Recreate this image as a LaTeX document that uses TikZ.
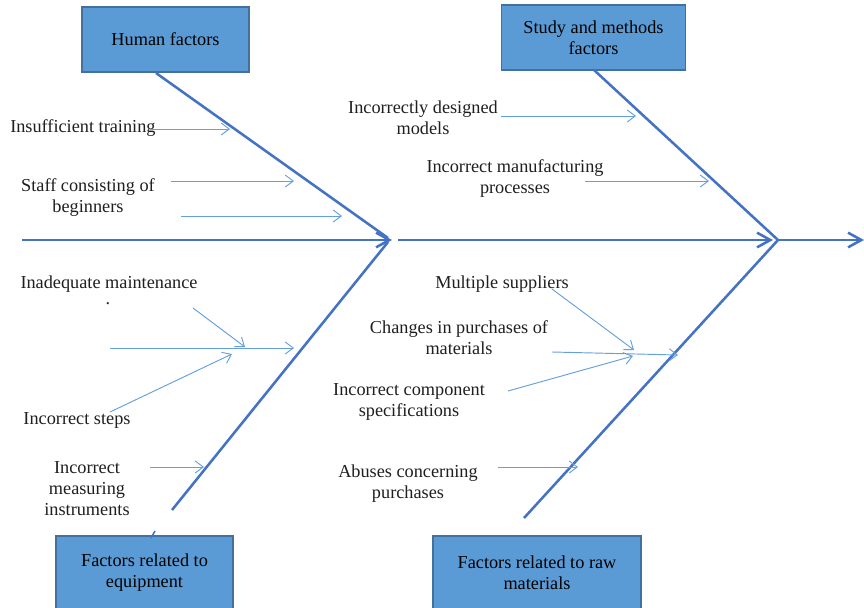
\documentclass[tikz,border=0pt]{standalone}
\usepackage{fontspec}
\setmainfont{Liberation Serif}
\usetikzlibrary{arrows.meta}
\definecolor{boxfill}{RGB}{91,155,213}
\definecolor{boxline}{RGB}{65,113,156}
\definecolor{bonecol}{RGB}{68,114,196}
\definecolor{thincol}{RGB}{100,160,220}
\tikzset{
  catbox/.style={draw=boxline, line width=0.9pt, fill=boxfill, inner sep=0pt, align=center,
     font=\fontsize{13.7}{15.75}\selectfont},
  lbl/.style={inner sep=0pt, align=center, font=\fontsize{13.7}{15.75}\selectfont, text=black!88, yshift=-1.5pt},
  bone/.style={draw=bonecol, line width=1.9pt},
  bonetip/.style={-{Straight Barb[length=10pt,width=11pt,line width=1.9pt]}},
  cause/.style={draw=thincol, line width=0.7pt, -{Straight Barb[length=6pt,width=9pt,line width=0.7pt]}}
}
\begin{document}
\begin{tikzpicture}[x=0.75pt,y=-0.75pt]
\clip (0,0) rectangle (864,607);
\fill[white] (0,0) rectangle (864,607);
% category boxes
\node[catbox, minimum width=167*0.75pt, minimum height=65*0.75pt] (hf) at (165.5,39.5) {Human factors};
\node[catbox, minimum width=184*0.75pt, minimum height=65*0.75pt] (sm) at (593.5,37.5) {Study and methods\\factors};
\node[catbox, minimum width=177*0.75pt, minimum height=74*0.75pt] (eq) at (144.5,573) {Factors related to\\equipment};
\node[catbox, minimum width=208*0.75pt, minimum height=74*0.75pt] (rm) at (537,573) {Factors related to raw\\materials};
% spine coordinates
\coordinate (s0) at (22,240);
\coordinate (j1) at (392,240);
\coordinate (s1) at (398,240);
\coordinate (j2t) at (773,240);
\coordinate (j2) at (778,240);
\coordinate (s3) at (864,240);
% bone ends
\coordinate (b1) at (156,73);
\coordinate (b2) at (172,510);
\coordinate (b3) at (594,70);
\coordinate (b4) at (524,518);
% spine
\draw[bone,bonetip] (s0) -- (j1);
\draw[bone,bonetip] (s1) -- (j2t);
\draw[bone,bonetip] (j2) -- (s3);
% bones
\draw[bone] (b1) -- (388,238);
\draw[bone] (b2) -- (388,242);
\draw[bone] (b3) -- (j2);
\draw[bone] (b4) -- (j2);
\draw[bone, line width=1.2pt] (151,538) -- (155,531);
% Human factors causes
\node[lbl, anchor=west] (c1) at (10,126) {Insufficient training};
\coordinate (c1s) at (150,129); \coordinate (c1e) at (230,129);
\draw[cause] (c1s) -- (c1e);
\node[lbl] (c2) at (88,196) {Staff consisting of\\beginners};
\coordinate (c2s) at (171,181); \coordinate (c2e) at (294,181);
\coordinate (c2s2) at (181,216); \coordinate (c2e2) at (342,216);
\draw[cause] (c2s) -- (c2e);
\draw[cause] (c2s2) -- (c2e2);
% Study causes
\node[lbl] (c3) at (423,116) {Incorrectly designed\\models};
\coordinate (c3s) at (501,116); \coordinate (c3e) at (636,116);
\draw[cause] (c3s) -- (c3e);
\node[lbl] (c4) at (515,177) {Incorrect manufacturing\\processes};
\coordinate (c4s) at (585,181); \coordinate (c4e) at (709,181);
\draw[cause] (c4s) -- (c4e);
% Equipment causes
\node[lbl] (c5) at (109,282) {Inadequate maintenance};
\node[lbl] (dot) at (108,302) {.};
\coordinate (c5s) at (193,308); \coordinate (c5e) at (245,347);
\draw[cause] (c5s) -- (c5e);
\coordinate (c6s) at (110,348); \coordinate (c6e) at (294,348);
\draw[cause] (c6s) -- (c6e);
\node[lbl] (c7) at (77,418) {Incorrect steps};
\coordinate (c7s) at (110,412); \coordinate (c7e) at (232,354);
\draw[cause] (c7s) -- (c7e);
\node[lbl] (c8) at (87,487) {Incorrect\\measuring\\instruments};
\coordinate (c8s) at (150,467); \coordinate (c8e) at (204,467);
\draw[cause] (c8s) -- (c8e);
% Raw materials causes
\node[lbl] (c9) at (502,282) {Multiple suppliers};
\coordinate (c9s) at (552,289); \coordinate (c9e) at (634,350);
\draw[cause] (c9s) -- (c9e);
\node[lbl] (c10) at (459,336) {Changes in purchases of\\materials};
\coordinate (c10s) at (552,352); \coordinate (c10e) at (678,355);
\draw[cause] (c10s) -- (c10e);
\node[lbl] (c11) at (409,400) {Incorrect component\\specifications};
\coordinate (c11s) at (508,391); \coordinate (c11e) at (633,356);
\draw[cause] (c11s) -- (c11e);
\node[lbl] (c12) at (408,482) {Abuses concerning\\purchases};
\coordinate (c12s) at (498,467); \coordinate (c12e) at (578,467);
\draw[cause] (c12s) -- (c12e);
\end{tikzpicture}
\end{document}
